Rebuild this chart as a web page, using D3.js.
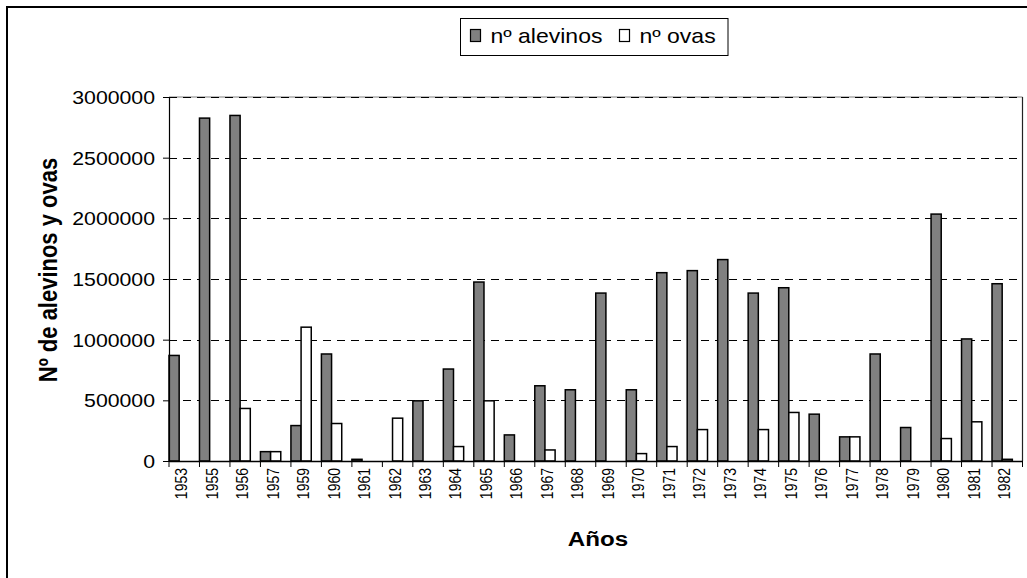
<!DOCTYPE html>
<html><head><meta charset="utf-8">
<script src="https://cdn.jsdelivr.net/npm/d3@7"></script>
<style>
html,body{margin:0;padding:0;background:#fff;}
svg{display:block;font-family:"Liberation Sans",Arial,sans-serif;}
</style></head>
<body>
<svg id="chart" width="1027" height="578"></svg>
<script>
const years = ["1953","1955","1956","1957","1959","1960","1961","1962","1963","1964","1965","1966","1967","1968","1969","1970","1971","1972","1973","1974","1975","1976","1977","1978","1979","1980","1981","1982"];
const alevinos = [870000,2826000,2848000,77000,292000,882000,14000,0,496000,758000,1475000,215000,620000,587000,1384000,587000,1552000,1569000,1660000,1384000,1428000,386000,199000,882000,276000,2035000,1006000,1461000];
const ovas = [0,0,433000,77000,1103000,309000,0,353000,0,119000,496000,0,91000,0,0,61000,119000,259000,0,259000,400000,0,199000,0,0,185000,323000,14000];
const yTicks = [0,500000,1000000,1500000,2000000,2500000,3000000];
const seriesNames = ["nº alevinos","nº ovas"];
const seriesColors = ["#808080","#ffffff"];

const SX = 1.15;
const svg = d3.select("#chart");
const L = 169, R = 1022.5, T = 97, B = 461;

// outer frame
svg.append("rect").attr("x",7).attr("y",7).attr("width",1200).attr("height",800)
  .attr("fill","none").attr("stroke","#000").attr("stroke-width",2);

const x = d3.scaleBand().domain(years).range([L,R]).paddingInner(0).paddingOuter(0);
const y = d3.scaleLinear().domain([0,3000000]).range([B,T]);
const bw = x.bandwidth();

// plot border (top gray, right)
svg.append("line").attr("x1",L).attr("x2",R).attr("y1",T).attr("y2",T).attr("stroke","#808080").attr("stroke-width",1.2);
svg.append("line").attr("x1",R).attr("x2",R).attr("y1",T).attr("y2",B).attr("stroke","#222").attr("stroke-width",1.2);

// gridlines
svg.append("g").selectAll("line").data(yTicks.filter(d=>d>0)).join("line")
  .attr("x1",L).attr("x2",R).attr("y1",d=>Math.round(y(d))+0.5).attr("y2",d=>Math.round(y(d))+0.5)
  .attr("stroke","#000").attr("stroke-width",1).attr("stroke-dasharray","8,6");

// bars
const data = years.map((yr,i)=>({yr, vals:[alevinos[i],ovas[i]]}));
const bars = svg.append("g");
[0,1].forEach(s=>{
  bars.append("g").selectAll("rect").data(data.filter(d=>d.vals[s]>0)).join("rect")
    .attr("x",d=>x(d.yr)+s*bw/3)
    .attr("y",d=>y(d.vals[s]))
    .attr("width",bw/3)
    .attr("height",d=>B-y(d.vals[s]))
    .attr("fill",seriesColors[s]).attr("stroke","#000").attr("stroke-width",1.5);
});

// y axis
const gy = svg.append("g").attr("transform",`translate(${L},0)`)
  .call(d3.axisLeft(y).tickValues(yTicks).tickSize(6).tickFormat(d3.format("d")));
gy.select(".domain").attr("stroke","#000").attr("stroke-width",1.2);
gy.selectAll(".tick line").attr("stroke","#000");
gy.selectAll(".tick text").attr("font-size",18.5).attr("fill","#000")
  .attr("font-family","Liberation Sans, Arial, sans-serif")
  .attr("x",-14/SX).attr("dy","0.35em").attr("transform",`scale(${SX},1)`);

// x axis
const gx = svg.append("g").attr("transform",`translate(0,${B})`)
  .call(d3.axisBottom(x).tickSize(0).tickSizeOuter(0));
gx.select(".domain").attr("stroke","#000").attr("stroke-width",1.5);
gx.selectAll(".tick").attr("transform",d=>`translate(${x(d)+12.5},0)`);
gx.selectAll(".tick text").attr("font-size",14).attr("fill","#000")
  .attr("font-family","Liberation Sans, Arial, sans-serif")
  .attr("text-anchor","end").attr("x",0).attr("y",0).attr("dy","0.35em")
  .attr("transform",`translate(0,7) scale(${SX},1) rotate(-90)`);
// boundary ticks
const bounds = years.map(d=>x(d)).concat([R]);
gx.append("g").selectAll("line").data(bounds).join("line")
  .attr("x1",d=>d).attr("x2",d=>d).attr("y1",0).attr("y2",6).attr("stroke","#000");

// axis titles
svg.append("text").attr("transform",`translate(598,546) scale(${SX},1)`)
  .attr("text-anchor","middle").attr("font-size",21).attr("font-weight","bold").text("Años");
svg.append("text").attr("transform",`translate(57,270) scale(${SX},1) rotate(-90)`)
  .attr("text-anchor","middle").attr("font-size",22).attr("font-weight","bold").text("Nº de alevinos y ovas");

// legend
const lg = svg.append("g");
lg.append("rect").attr("x",460.5).attr("y",18.5).attr("width",267.5).attr("height",37)
  .attr("fill","#fff").attr("stroke","#000").attr("stroke-width",1);
const legX = [470.5, 619.5];
seriesNames.forEach((n,i)=>{
  lg.append("rect").attr("x",legX[i]).attr("y",29.5).attr("width",10).attr("height",12)
    .attr("fill",seriesColors[i]).attr("stroke","#000").attr("stroke-width",1.2);
  lg.append("text").attr("transform",`translate(${legX[i]+20},43) scale(${SX},1)`)
    .attr("font-size",20).attr("fill","#000").text(n);
});
</script>
</body></html>
